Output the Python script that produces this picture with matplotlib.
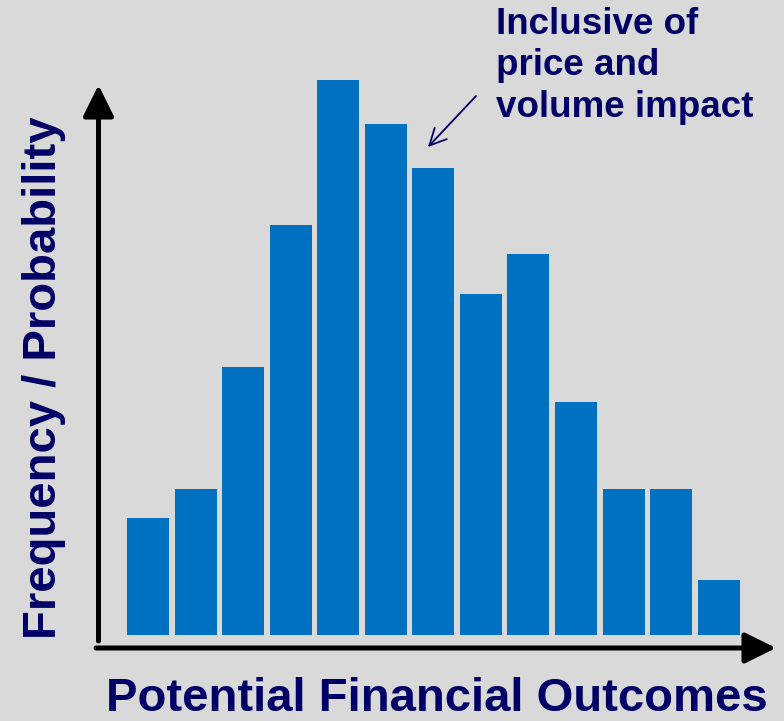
import numpy as np
import matplotlib
matplotlib.use("Agg")
import matplotlib.pyplot as plt

# outcome bins (left to right) and their relative frequency
bins = np.arange(13)
freq = [117, 146, 268, 410, 555, 511, 467, 341, 381, 233, 146, 146, 55]

xlabel_txt = "Potential Financial Outcomes"
ylabel_txt = "Frequency / Probability"
note_txt = "Inclusive of\nprice and\nvolume impact"

bg = "#d9d9d9"
bar_col = "#0070c0"
navy = "#000066"

plt.rcParams['font.family'] = ['Liberation Sans', 'DejaVu Sans']

W, H = 784, 721
fig = plt.figure(figsize=(W / 100, H / 100), dpi=100, facecolor=bg)

# axes box spans the drawn axis lines (pixel 98..775 across, 86..649 down)
ax = fig.add_axes([98 / W, 1 - 649 / H, (775 - 98) / W, (649 - 86) / H])
ax.set_facecolor("none")
ax.axis("off")
pitch = 47.56
ax.set_xlim((98 - 148) / pitch, (775 - 148) / pitch)
ax.set_ylim(-14, 549)

ax.bar(bins, freq, width=42 / pitch, color=bar_col, clip_on=False, zorder=2)

# axis arrows
head = dict(arrowstyle="-|>,head_length=0.95,head_width=0.47",
            mutation_scale=20, lw=3.6, color="black", shrinkA=0, shrinkB=0)
ax.annotate("", xy=(98.5 / W, 1 - 85 / H), xytext=(98.5 / W, 1 - 641 / H),
            xycoords="figure fraction", textcoords="figure fraction",
            arrowprops=head)
ax.annotate("", xy=(776 / W, 1 - 648 / H), xytext=(96 / W, 1 - 648 / H),
            xycoords="figure fraction", textcoords="figure fraction",
            arrowprops=head)

# axis titles
fig.text(437 / W, 1 - 699 / H, xlabel_txt, ha="center", va="center",
         fontsize=34, fontweight="bold", color=navy)
fig.text(44 / W, 1 - 378 / H, ylabel_txt, ha="center", va="center",
         rotation=90, fontsize=34, fontweight="bold", color=navy)

# callout
fig.text(496 / W, 1 - 7 / H, note_txt, ha="left", va="top",
         fontsize=26.5, fontweight="bold", color=navy, linespacing=1.24)
ax.annotate("", xy=(428 / W, 1 - 147 / H), xytext=(476 / W, 1 - 96 / H),
            xycoords="figure fraction", textcoords="figure fraction",
            arrowprops=dict(arrowstyle="->,head_length=0.6,head_width=0.3",
                            mutation_scale=20, lw=1.3, color=navy,
                            shrinkA=0, shrinkB=0))

fig.savefig("out.png", dpi=100, facecolor=bg)
